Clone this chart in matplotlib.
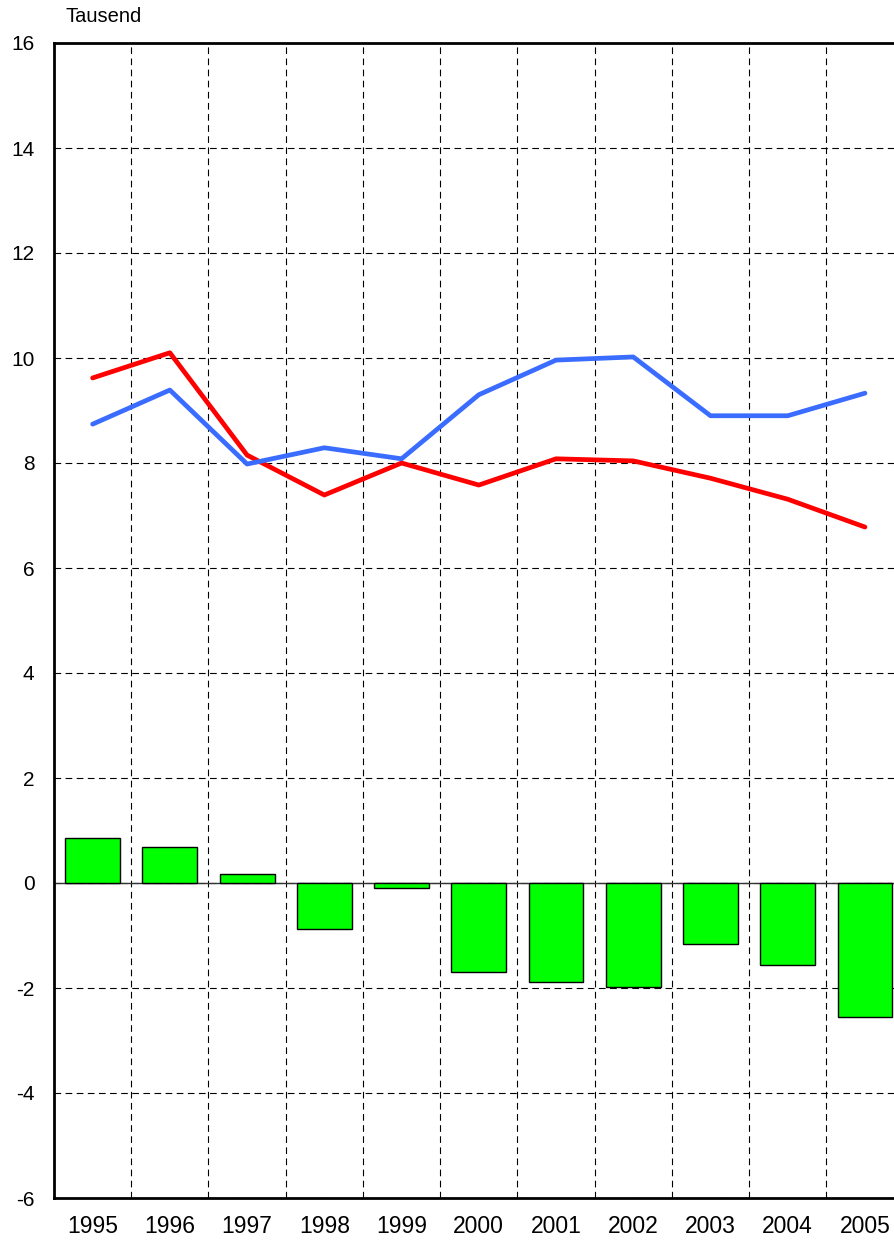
import matplotlib
matplotlib.use("Agg")
import matplotlib.pyplot as plt
import numpy as np

plt.rcParams["font.family"] = ["Liberation Sans", "DejaVu Sans"]
plt.rcParams["axes.unicode_minus"] = False

# ── data ─────────────────────────────────────────────────────────────────────
years = ["1995", "1996", "1997", "1998", "1999", "2000",
         "2001", "2002", "2003", "2004", "2005"]
red_vals  = [9.62, 10.10, 8.15, 7.39, 8.00, 7.58, 8.08, 8.04, 7.71, 7.31, 6.78]
blue_vals = [8.74, 9.39, 7.98, 8.29, 8.08, 9.30, 9.96, 10.02, 8.90, 8.90, 9.33]
bar_vals  = [0.86, 0.69, 0.17, -0.88, -0.10, -1.70, -1.89, -1.98, -1.16, -1.56, -2.55]

x = np.arange(len(years))

fig = plt.figure(figsize=(8.94, 12.49), dpi=100)
# axes runs past the right edge of the picture, as in the original
ax = fig.add_axes([54 / 894, 51 / 1249, 849.6 / 894, 1155 / 1249])

ax.bar(x, bar_vals, width=0.71, color="#00ff00", edgecolor="black",
       linewidth=1.0, zorder=3)
ax.axhline(0, color="#333333", linewidth=1.0, zorder=2)
ax.plot(x, red_vals, color="#ff0000", linewidth=3.4, zorder=4,
        solid_capstyle="round", solid_joinstyle="round")
ax.plot(x, blue_vals, color="#3a6cff", linewidth=3.4, zorder=5,
        solid_capstyle="round", solid_joinstyle="round")

ax.set_xlim(-0.5, len(years) - 0.5)
ax.set_ylim(-6, 16)
ax.set_yticks(np.arange(-6, 17, 2))
ax.set_xticks(x)
ax.set_xticklabels(years, fontsize=16.5)
ax.set_xticks(x[:-1] + 0.5, minor=True)
ax.tick_params(axis="y", labelsize=15, length=0, pad=14)
ax.tick_params(axis="x", which="both", length=0, pad=12)

ax.grid(axis="y", which="major", color="black", linestyle=(0, (6, 4)),
        linewidth=0.8, zorder=1)
ax.grid(axis="x", which="minor", color="black", linestyle=(0, (6, 4)),
        linewidth=0.8, zorder=1)
ax.grid(axis="x", which="major", visible=False)
ax.set_axisbelow(True)

for s in ["left", "top", "bottom"]:
    ax.spines[s].set_linewidth(2.0)
ax.spines["right"].set_visible(False)

fig.text(65 / 894, 1 - 17 / 1249, "Tausend", fontsize=14.5, va="center", ha="left")

fig.savefig("out.png", dpi=100)
plt.close()
